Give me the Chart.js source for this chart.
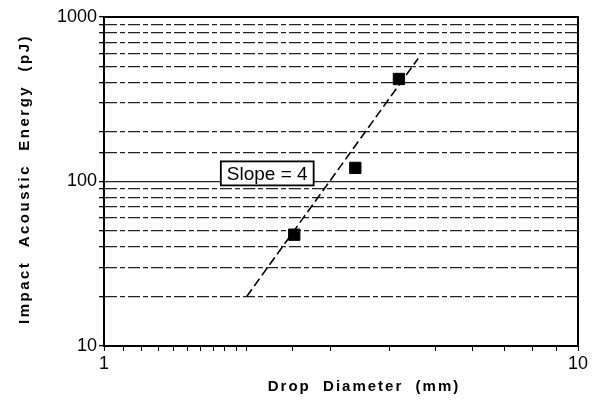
<!DOCTYPE html>
<html>
<head>
<meta charset="utf-8">
<script src="https://cdn.jsdelivr.net/npm/chart.js@4/dist/chart.umd.min.js"></script>
<style>
  html, body { margin: 0; padding: 0; background: #fff; }
  #wrap { width: 604px; height: 400px; }
</style>
</head>
<body>
<div id="wrap"><canvas id="dropChart"></canvas></div>
<script>
// measured drops (diameter mm, energy pJ)
var dropDiameter = [2.52, 3.39, 4.19];
var impactEnergy = [47.5, 121, 420];

// slope = 4 guide line
var fitDiameter = [2.0, 4.6];
var fitEnergy = [20, 560];

var slopeLabel = 'Slope = 4';
var slopeLabelAt = [2.21, 112];

var xTickLabels = [1, 10];
var yTickLabels = [10, 100, 1000];

var xTitle = 'Drop  Diameter  (mm)';
var yTitle = 'Impact  Acoustic  Energy  (pJ)';

function toPoints(xs, ys) {
    return xs.map(function(x, i) { return { x: x, y: ys[i] }; });
}

// frame on top/right, slope box and axis titles
var extrasPlugin = {
    id: 'extras',
    afterDatasetsDraw: function(chart) {
        var ctx = chart.ctx;
        var a = chart.chartArea;
        var xs = chart.scales.x, ys = chart.scales.y;

        ctx.save();
        ctx.strokeStyle = '#000';
        ctx.lineWidth = 2;
        ctx.beginPath();
        ctx.moveTo(a.left, a.top);
        ctx.lineTo(a.right, a.top);
        ctx.lineTo(a.right, a.bottom);
        ctx.stroke();

        // slope label box
        var cx = xs.getPixelForValue(slopeLabelAt[0]);
        var cy = ys.getPixelForValue(slopeLabelAt[1]);
        ctx.font = '19px "Liberation Sans", Arial, sans-serif';
        var w = ctx.measureText(slopeLabel).width + 12;
        var h = 24;
        ctx.fillStyle = '#fff';
        ctx.fillRect(cx - w / 2, cy - h / 2, w, h);
        ctx.lineWidth = 1.8;
        ctx.strokeRect(cx - w / 2, cy - h / 2, w, h);
        ctx.fillStyle = '#000';
        ctx.textAlign = 'center';
        ctx.textBaseline = 'middle';
        ctx.fillText(slopeLabel, cx, cy + 1);

        // axis titles
        ctx.font = 'bold 15px "Liberation Sans", Arial, sans-serif';
        ctx.letterSpacing = '2px';
        ctx.fillText(xTitle, 364, 387);
        ctx.letterSpacing = '2.5px';
        ctx.translate(25, 179);
        ctx.rotate(-Math.PI / 2);
        ctx.fillText(yTitle, 0, 0);
        ctx.restore();
    }
};

function isDecade(v) {
    var l = Math.log10(v);
    return Math.abs(l - Math.round(l)) < 1e-9;
}

new Chart(document.getElementById('dropChart'), {
    type: 'scatter',
    data: {
        datasets: [{
            type: 'line',
            label: 'slope 4',
            data: toPoints(fitDiameter, fitEnergy),
            borderColor: '#000',
            borderWidth: 1.6,
            borderDash: [9, 4],
            pointRadius: 0,
            fill: false
        }, {
            label: 'data',
            data: toPoints(dropDiameter, impactEnergy),
            pointStyle: 'rect',
            pointRadius: 8,
            backgroundColor: '#000',
            borderColor: '#000'
        }]
    },
    options: {
        responsive: true,
        maintainAspectRatio: false,
        animation: false,
        layout: { padding: { top: 17, right: 26, left: 0, bottom: 0 } },
        plugins: {
            legend: { display: false },
            tooltip: { enabled: false }
        },
        scales: {
            x: {
                type: 'logarithmic',
                min: 1,
                max: 10,
                afterFit: function(scale) { scale.height = 54; },
                border: { color: '#000', width: 2 },
                grid: {
                    drawOnChartArea: false,
                    tickLength: 5,
                    tickColor: '#000',
                    color: '#000'
                },
                ticks: {
                    autoSkip: false,
                    maxRotation: 0,
                    padding: 2,
                    color: '#000',
                    font: { family: '"Liberation Sans", Arial, sans-serif', size: 18 },
                    callback: function(value) {
                        return xTickLabels.indexOf(value) >= 0 ? String(value) : '';
                    }
                }
            },
            y: {
                type: 'logarithmic',
                min: 10,
                max: 1000,
                afterFit: function(scale) { scale.width = 104; },
                border: {
                    color: '#000',
                    width: 2,
                    dash: function(c) { return c.tick && c.tick.value === 100 ? [] : [12, 3, 5, 3]; }
                },
                grid: {
                    tickLength: 5,
                    tickColor: '#000',
                    lineWidth: 1.3,
                    color: function(c) {
                        if (!c.tick) return '#222';
                        var v = c.tick.value;
                        if (v === 10 || v === 1000) return 'rgba(0,0,0,0)';
                        return '#222';
                    }
                },
                ticks: {
                    autoSkip: false,
                    padding: 2,
                    color: '#000',
                    font: { family: '"Liberation Sans", Arial, sans-serif', size: 18 },
                    callback: function(value) {
                        return (isDecade(value) && yTickLabels.indexOf(value) >= 0) ? String(value) : '';
                    }
                }
            }
        }
    },
    plugins: [extrasPlugin]
});
</script>
</body>
</html>
